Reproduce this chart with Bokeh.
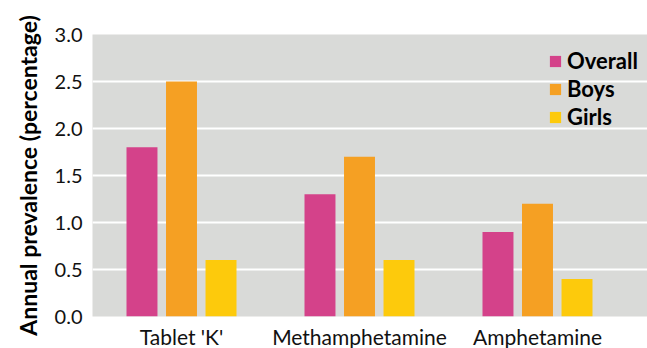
from bokeh.plotting import figure
from bokeh.models import ColumnDataSource, Legend, LegendItem, FixedTicker, NumeralTickFormatter, Range1d
from bokeh.transform import dodge
from bokeh.embed import file_html
from bokeh.resources import INLINE

categories = ["Tablet 'K'", "Methamphetamine", "Amphetamine"]
overall = [1.8, 1.3, 0.9]
boys = [2.5, 1.7, 1.2]
girls = [0.6, 0.6, 0.4]
series_names = ["Overall", "Boys", "Girls"]
colors = ["#d4428a", "#f5a023", "#fdca0c"]
y_ticks = [0.0, 0.5, 1.0, 1.5, 2.0, 2.5, 3.0]

xpos = [i + 0.5 for i in range(len(categories))]
source = ColumnDataSource(dict(x=xpos, overall=overall, boys=boys, girls=girls))

FONT = "Lato"

p = figure(frame_width=555, frame_height=282, output_backend="svg", toolbar_location=None,
           x_range=Range1d(0, 3.118), y_range=Range1d(0, 3.0),
           min_border_left=92, min_border_right=0, min_border_top=34, min_border_bottom=0)
p.outline_line_color = None
p.background_fill_color = "#d9dad8"
p.border_fill_color = "white"

renderers = []
for key, off, col in zip(["overall", "boys", "girls"], [-0.222, 0.0, 0.222], colors):
    r = p.vbar(x=dodge("x", off), top=key, width=0.174, source=source,
               fill_color=col, line_color=None)
    renderers.append(r)

legend = Legend(items=[LegendItem(label=n, renderers=[r]) for n, r in zip(series_names, renderers)],
                location=(456, 186), orientation="vertical",
                background_fill_alpha=0, border_line_color=None,
                padding=0, margin=0, spacing=1, glyph_width=14, glyph_height=14,
                label_height=22, label_standoff=5,
                label_text_font=FONT, label_text_font_style="bold", label_text_font_size="22px",
                label_text_color="black")
p.add_layout(legend, "center")

p.xgrid.grid_line_color = None
p.ygrid.grid_line_color = "white"
p.ygrid.grid_line_width = 2
p.ygrid.ticker = FixedTicker(ticks=y_ticks)

p.xaxis.ticker = FixedTicker(ticks=xpos)
p.xaxis.major_label_overrides = {x: c for x, c in zip(xpos, categories)}
p.yaxis.ticker = FixedTicker(ticks=y_ticks)
p.yaxis.formatter = NumeralTickFormatter(format="0.0")

for ax in [p.xaxis[0], p.yaxis[0]]:
    ax.axis_line_color = None
    ax.major_tick_line_color = None
    ax.minor_tick_line_color = None
    ax.major_tick_out = 0
    ax.major_tick_in = 0
    ax.major_label_text_font = FONT
    ax.major_label_text_color = "#111111"

p.xaxis.major_label_text_font_size = "21px"
p.yaxis.major_label_text_font_size = "20px"
p.xaxis.major_label_standoff = 7
p.xaxis.axis_label_standoff = 0
p.yaxis.major_label_standoff = 10
p.yaxis.axis_label = "Annual prevalence (percentage)"
p.yaxis.axis_label_text_font = FONT
p.yaxis.axis_label_text_font_style = "bold"
p.yaxis.axis_label_text_font_size = "23px"
p.yaxis.axis_label_text_color = "black"
p.yaxis.axis_label_standoff = 10

open("out.html", "w").write(file_html(p, INLINE))
